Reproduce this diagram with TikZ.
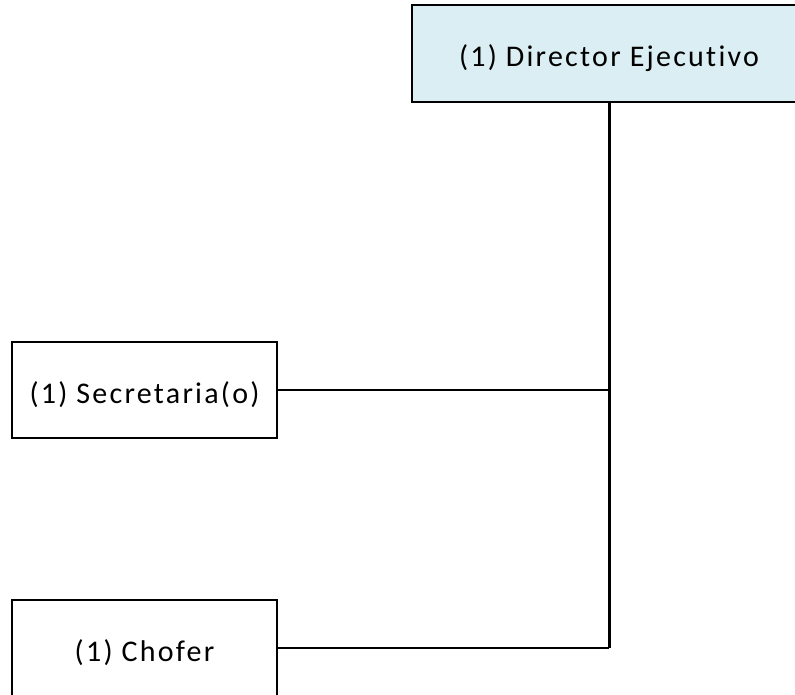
\documentclass[tikz,border=0pt]{standalone}
\usepackage{fontspec}
\setmainfont[LetterSpace=7.5,Ligatures=NoCommon]{Carlito}
\definecolor{headfill}{HTML}{DAEEF3}
\begin{document}
\begin{tikzpicture}[x=1pt,y=-1pt,
  box/.style={draw=black,line width=2pt,fill=white,minimum width=265pt,minimum height=96pt,inner sep=0pt,
    font=\fontsize{30}{36}\selectfont,text height=28pt,text depth=2pt},
  head/.style={box,fill=headfill,minimum width=394pt,minimum height=97pt},
  link/.style={draw=black,line width=2pt}]
\useasboundingbox (0,0) rectangle (795,694);
\node[head] (dir) at (609,53.5) {(1) Director Ejecutivo};
\node[box] (sec) at (144.5,390) {(1) Secretaria(o)};
\node[box] (cho) at (144.5,648) {(1) Chofer};
\draw[link,line width=3pt] (dir.south) -- (dir.south |- cho.east) coordinate (bend);
\draw[link] (sec.east) -- (sec.east -| bend);
\draw[link] (cho.east) -- (bend);
\end{tikzpicture}
\end{document}
